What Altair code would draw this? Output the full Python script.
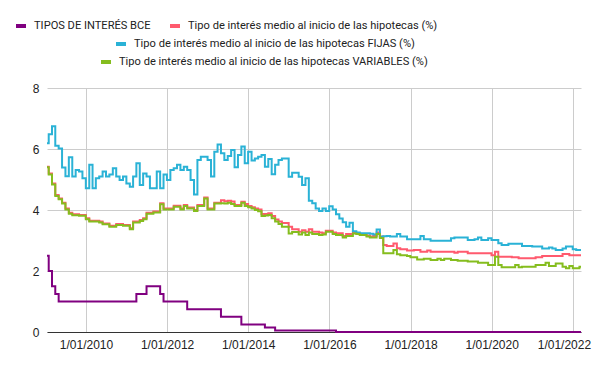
import altair as alt
import pandas as pd

# ---------------- data ----------------
SERIES = [
    "TIPOS DE INTERÉS BCE",
    "Tipo de interés medio al inicio de las hipotecas (%)",
    "Tipo de interés medio al inicio de las hipotecas FIJAS (%)",
    "Tipo de interés medio al inicio de las hipotecas VARIABLES (%)",
]
COLORS = ["#800080", "#ff5a6e", "#2ab2d6", "#85bd1e"]

FIRST_MONTH = "2009-01-01"
N_MONTHS = 159  # Jan 2009 .. Mar 2022

bce = [
    2.5, 2.0, 1.5, 1.25, 1.0, 1.0, 1.0, 1.0, 1.0, 1.0,
    1.0, 1.0, 1.0, 1.0, 1.0, 1.0, 1.0, 1.0, 1.0, 1.0,
    1.0, 1.0, 1.0, 1.0, 1.0, 1.0, 1.0, 1.25, 1.25, 1.25,
    1.5, 1.5, 1.5, 1.5, 1.25, 1.0, 1.0, 1.0, 1.0, 1.0,
    1.0, 1.0, 0.75, 0.75, 0.75, 0.75, 0.75, 0.75, 0.75, 0.75,
    0.75, 0.75, 0.5, 0.5, 0.5, 0.5, 0.5, 0.5, 0.25, 0.25,
    0.25, 0.25, 0.25, 0.25, 0.25, 0.15, 0.15, 0.15, 0.05, 0.05,
    0.05, 0.05, 0.05, 0.05, 0.05, 0.05, 0.05, 0.05, 0.05, 0.05,
    0.05, 0.05, 0.05, 0.05, 0.05, 0.05, 0.0, 0.0, 0.0, 0.0,
    0.0, 0.0, 0.0, 0.0, 0.0, 0.0, 0.0, 0.0, 0.0, 0.0,
    0.0, 0.0, 0.0, 0.0, 0.0, 0.0, 0.0, 0.0, 0.0, 0.0,
    0.0, 0.0, 0.0, 0.0, 0.0, 0.0, 0.0, 0.0, 0.0, 0.0,
    0.0, 0.0, 0.0, 0.0, 0.0, 0.0, 0.0, 0.0, 0.0, 0.0,
    0.0, 0.0, 0.0, 0.0, 0.0, 0.0, 0.0, 0.0, 0.0, 0.0,
    0.0, 0.0, 0.0, 0.0, 0.0, 0.0, 0.0, 0.0, 0.0, 0.0,
    0.0, 0.0, 0.0, 0.0, 0.0, 0.0, 0.0, 0.0, 0.0,
]

medio = [
    5.42, 5.20, 4.87, 4.49, 4.38, 4.24, 4.05, 3.91, 3.86, 3.86,
    3.84, 3.84, 3.73, 3.65, 3.65, 3.65, 3.62, 3.56, 3.56, 3.48,
    3.48, 3.54, 3.54, 3.51, 3.51, 3.40, 3.62, 3.62, 3.67, 3.73,
    3.91, 3.91, 3.95, 3.95, 4.22, 4.05, 4.05, 4.05, 4.14, 4.14,
    4.05, 4.16, 4.08, 4.08, 4.00, 4.16, 4.16, 4.41, 4.05, 4.05,
    4.24, 4.24, 4.32, 4.29, 4.30, 4.28, 4.16, 4.16, 4.27, 4.20,
    4.13, 4.09, 4.05, 4.02, 3.87, 3.87, 3.89, 3.80, 3.69, 3.62,
    3.57, 3.57, 3.45, 3.37, 3.37, 3.29, 3.34, 3.29, 3.37, 3.29,
    3.29, 3.26, 3.24, 3.32, 3.32, 3.26, 3.24, 3.24, 3.15, 3.21,
    3.21, 3.26, 3.24, 3.21, 3.21, 3.16, 3.13, 3.15, 3.26, 3.13,
    2.85, 2.82, 2.82, 2.90, 2.75, 2.71, 2.71, 2.67, 2.67, 2.69,
    2.69, 2.63, 2.63, 2.67, 2.63, 2.63, 2.63, 2.63, 2.63, 2.63,
    2.63, 2.60, 2.63, 2.63, 2.63, 2.58, 2.58, 2.58, 2.58, 2.58,
    2.58, 2.58, 2.52, 2.63, 2.47, 2.47, 2.47, 2.47, 2.45, 2.45,
    2.42, 2.42, 2.42, 2.42, 2.42, 2.45, 2.45, 2.49, 2.49, 2.49,
    2.49, 2.49, 2.49, 2.56, 2.56, 2.52, 2.52, 2.52, 2.52,
]

fijas = [
    6.19, 6.48, 6.75, 6.11, 6.02, 5.39, 5.11, 5.73, 5.10, 5.31,
    5.26, 5.04, 4.71, 5.48, 4.71, 5.04, 5.10, 5.26, 5.10, 5.16,
    5.37, 5.10, 4.98, 5.10, 4.87, 4.76, 5.10, 5.53, 4.82, 5.20,
    5.10, 4.71, 4.71, 5.26, 4.71, 5.16, 4.98, 5.31, 5.37, 5.48,
    5.31, 5.42, 5.31, 4.98, 4.51, 5.64, 5.75, 5.75, 5.64, 5.10,
    5.91, 6.15, 5.86, 5.64, 5.77, 5.97, 5.40, 5.80, 6.08, 5.53,
    5.91, 5.62, 5.69, 5.75, 5.80, 5.42, 5.67, 5.17, 5.48, 5.64,
    5.69, 5.69, 5.09, 5.22, 5.22, 5.09, 4.82, 5.04, 4.30, 4.22,
    4.05, 3.97, 4.05, 3.97, 4.12, 4.02, 3.86, 3.72, 3.60, 3.45,
    3.58, 3.30, 3.26, 3.24, 3.24, 3.24, 3.22, 3.20, 3.36, 3.12,
    3.14, 3.15, 3.13, 3.13, 3.21, 3.13, 3.13, 3.04, 3.04, 3.04,
    3.04, 3.15, 3.04, 3.04, 2.99, 2.99, 2.99, 2.99, 2.99, 2.99,
    3.07, 3.10, 3.10, 3.10, 3.10, 3.02, 3.02, 3.04, 3.10, 3.02,
    3.02, 3.07, 3.02, 3.02, 2.91, 2.85, 2.85, 2.89, 2.89, 2.89,
    2.89, 2.82, 2.82, 2.82, 2.80, 2.80, 2.80, 2.74, 2.74, 2.77,
    2.74, 2.69, 2.69, 2.74, 2.80, 2.80, 2.71, 2.69, 2.69,
]

variables = [
    5.40, 5.16, 4.84, 4.46, 4.35, 4.21, 4.02, 3.88, 3.83, 3.83,
    3.81, 3.81, 3.70, 3.62, 3.62, 3.62, 3.59, 3.53, 3.53, 3.45,
    3.45, 3.51, 3.51, 3.48, 3.48, 3.37, 3.59, 3.59, 3.64, 3.70,
    3.88, 3.88, 3.92, 3.92, 4.19, 4.02, 4.02, 4.02, 4.11, 4.11,
    4.02, 4.13, 4.05, 4.05, 3.97, 4.13, 4.13, 4.38, 4.02, 4.02,
    4.21, 4.21, 4.22, 4.21, 4.24, 4.20, 4.13, 4.13, 4.24, 4.13,
    4.09, 4.05, 4.00, 3.96, 3.80, 3.82, 3.84, 3.73, 3.62, 3.54,
    3.45, 3.45, 3.23, 3.28, 3.28, 3.20, 3.26, 3.18, 3.26, 3.21,
    3.21, 3.18, 3.20, 3.29, 3.29, 3.21, 3.18, 3.18, 3.10, 3.15,
    3.15, 3.23, 3.21, 3.18, 3.18, 3.13, 3.10, 3.10, 3.21, 3.08,
    2.58, 2.58, 2.58, 2.69, 2.55, 2.52, 2.52, 2.49, 2.45, 2.45,
    2.38, 2.38, 2.40, 2.40, 2.36, 2.36, 2.40, 2.36, 2.40, 2.40,
    2.36, 2.36, 2.34, 2.34, 2.34, 2.31, 2.31, 2.31, 2.27, 2.27,
    2.27, 2.20, 2.20, 2.47, 2.20, 2.12, 2.12, 2.12, 2.12, 2.20,
    2.12, 2.14, 2.14, 2.14, 2.14, 2.20, 2.20, 2.20, 2.27, 2.16,
    2.16, 2.25, 2.25, 2.14, 2.09, 2.16, 2.09, 2.09, 2.14,
]

YEAR_TICKS = [2010, 2012, 2014, 2016, 2018, 2020, 2022]
Y_TICKS = [0, 2, 4, 6, 8]

# ---------------- table ----------------
fechas = pd.date_range(FIRST_MONTH, periods=N_MONTHS, freq="MS") + pd.Timedelta(days=14)
frames = []
for name, vals in zip(SERIES, [bce, medio, fijas, variables]):
    frames.append(pd.DataFrame({"fecha": fechas, "serie": name, "valor": vals}))
df = pd.concat(frames, ignore_index=True)

AXIS_FONT = "Liberation Sans"
LEGEND_FONT = "Roboto"
LABEL_COLOR = "#222222"

x_axis = alt.Axis(
    values=[alt.DateTime(year=y, month=1, date=1) for y in YEAR_TICKS],
    format="%-d/%m/%Y",
    title=None,
    ticks=False,
    labelPadding=7,
    labelFlush=False,
    labelOffset={
        "condition": {"test": "datum.value > datetime(2021, 6, 1)", "value": -9},
        "value": 0,
    },
    labelFont=AXIS_FONT,
    labelFontSize=12,
    labelColor=LABEL_COLOR,
    domainColor="#333333",
    gridColor="#cccccc",
    grid=True,
)
y_axis = alt.Axis(
    values=Y_TICKS,
    title=None,
    ticks=False,
    domain=False,
    labelPadding=8,
    labelFont=AXIS_FONT,
    labelFontSize=12,
    labelColor=LABEL_COLOR,
    gridColor="#cccccc",
)

base = alt.Chart(df)


def series_layer(idx_list, lx, ly):
    names = [SERIES[i] for i in idx_list]
    cols = [COLORS[i] for i in idx_list]
    return base.transform_filter(
        alt.FieldOneOfPredicate(field="serie", oneOf=names)
    ).mark_line(interpolate="step", strokeWidth=2).encode(
        x=alt.X("fecha:T", axis=x_axis, scale=alt.Scale(nice=False)),
        y=alt.Y("valor:Q", axis=y_axis, scale=alt.Scale(domain=[0, 8], nice=False)),
        color=alt.Color(
            "serie:N",
            scale=alt.Scale(domain=names, range=cols),
            legend=alt.Legend(
                orient="none",
                legendX=lx,
                legendY=ly,
                direction="horizontal",
                title=None,
                padding=0,
                symbolType="stroke",
                symbolSize=100,
                symbolStrokeWidth=4,
                labelOffset=6,
                columnPadding=11,
                labelFont=LEGEND_FONT,
                labelFontSize=11.1,
                labelColor=LABEL_COLOR,
                labelLimit=500,
            ),
        ),
    )


layer_a = series_layer([0, 1], -33, -69)
layer_b = series_layer([2], 67, -51)
layer_c = series_layer([3], 52, -33)

chart = (
    alt.layer(layer_a, layer_b, layer_c)
    .resolve_scale(color="independent")
    .properties(
        width=534,
        height=244,
        autosize=alt.AutoSizeParams(type="none"),
        padding={"left": 39, "top": 80, "right": 11, "bottom": 25},
        background="white",
    )
    .configure_view(stroke=None)
)

chart.save("out.html", embed_options={"renderer": "svg", "actions": False})
